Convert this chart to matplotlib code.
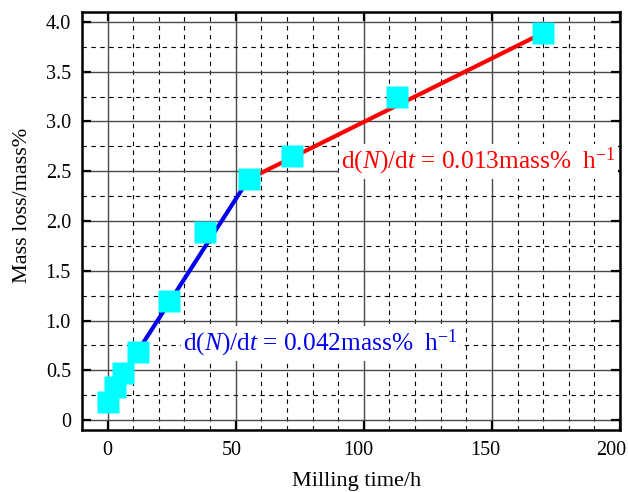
import matplotlib
matplotlib.use("Agg")
import matplotlib.pyplot as plt
from matplotlib.ticker import FixedLocator
from matplotlib.transforms import ScaledTranslation

plt.rcParams['font.family'] = ['Liberation Serif', 'DejaVu Serif']
plt.rcParams['mathtext.fontset'] = 'custom'
plt.rcParams['mathtext.rm'] = 'Liberation Serif'
plt.rcParams['mathtext.it'] = 'Liberation Serif:italic'

# data
milling_time = [0, 3, 6, 12, 24, 38, 55, 72, 113, 170]
mass_loss = [0.18, 0.33, 0.47, 0.68, 1.20, 1.89, 2.42, 2.65, 3.25, 3.89]

fit1_x = [12, 55]
fit1_y = [0.70, 2.42]
fit2_x = [55, 170]
fit2_y = [2.42, 3.89]

x_ticks = [0, 50, 100, 150, 200]
y_ticks = [0, 0.5, 1.0, 1.5, 2.0, 2.5, 3.0, 3.5, 4.0]
y_tick_labels = ['0', '0.5', '1.0', '1.5', '2.0', '2.5', '3.0', '3.5', '4.0']

fig = plt.figure(figsize=(6.28, 4.92), dpi=100)
ax = fig.add_axes([82/628, 1-430/492, 538/628, 418/492])

ax.set_xlim(-10, 200)
ax.set_ylim(-0.1, 4.1)

ax.xaxis.set_major_locator(FixedLocator(x_ticks))
ax.xaxis.set_minor_locator(FixedLocator([v for v in range(-10, 201, 10) if v % 50 != 0]))
ax.yaxis.set_major_locator(FixedLocator(y_ticks))
ax.yaxis.set_minor_locator(FixedLocator([0.25, 0.75, 1.25, 1.75, 2.25, 2.75, 3.25, 3.75]))
ax.set_yticklabels(y_tick_labels)

ax.grid(which='major', color='#4a4a4a', linestyle='-', linewidth=1.0, zorder=0)
ax.grid(which='minor', color='black', linestyle=(0, (4, 4)), linewidth=0.8, zorder=0)
ax.set_axisbelow(True)

ax.tick_params(which='major', direction='in', length=6.5, width=1.6, top=True, right=True,
               labelsize=14.5, pad=8, colors='black')
ax.tick_params(which='minor', length=0, top=True, right=True)
for s in ax.spines.values():
    s.set_linewidth(1.8)

ax.plot(fit1_x, fit1_y, color='#0000ee', linewidth=3, zorder=3, solid_capstyle='butt')
ax.plot(fit2_x, fit2_y, color='#ff0000', linewidth=3, zorder=3, solid_capstyle='butt')
ax.plot(milling_time, mass_loss, linestyle='none', marker='s', markersize=15.8,
        markerfacecolor='#00ffff', markeredgecolor='none', zorder=4)

ax.text(29.5, 0.77, r'd($\mathit{N}$)/d$\mathit{t}$ = 0.042mass%  h$^{-1}$', color='#0000ee',
        fontsize=18.3, ha='left', va='center', zorder=5,
        bbox=dict(facecolor='white', edgecolor='none', pad=1.5))
ax.text(91, 2.6, r'd($\mathit{N}$)/d$\mathit{t}$ = 0.013mass%  h$^{-1}$', color='#ff0000',
        fontsize=18.3, ha='left', va='center', zorder=5,
        bbox=dict(facecolor='white', edgecolor='none', pad=1.5))

ax.set_xlabel('Milling time/h', fontsize=16)
ax.set_ylabel('Mass loss/mass%', fontsize=16)
ax.xaxis.set_label_coords((357-82)/538, (430-472)/418)
ax.yaxis.set_label_coords((32-82)/538, (430-205)/418)

# small horizontal shifts of x tick labels as in the reference
label_shift_px = [0, -3.5, -6, -6.5, -9]
for lab, dx in zip(ax.xaxis.get_majorticklabels(), label_shift_px):
    lab.set_transform(lab.get_transform() + ScaledTranslation(dx/100, 0, fig.dpi_scale_trans))

fig.savefig('out.png', dpi=100)
